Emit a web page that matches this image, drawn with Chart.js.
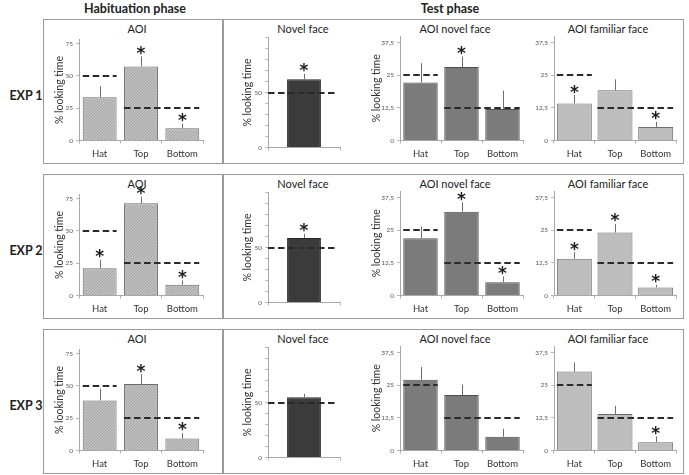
<!DOCTYPE html>
<html><head><meta charset="utf-8">
<script src="https://cdn.jsdelivr.net/npm/chart.js@4/dist/chart.umd.min.js"></script>
<style>
html,body{margin:0;padding:0;background:#fff;}
#fig{position:relative;width:689px;height:475px;font-family:Lato,"Open Sans",sans-serif;color:#222;overflow:hidden;}
.box{position:absolute;border:1.5px solid #9a9a9a;box-sizing:border-box;}
.vline{position:absolute;width:1.5px;background:#9a9a9a;}
.hdr,.exp{position:absolute;font-weight:bold;font-size:12.5px;transform:translate(-50%,-50%);white-space:nowrap;}
.ttl{position:absolute;font-size:11px;transform:translate(-50%,-50%);white-space:nowrap;color:#222;}
canvas{position:absolute;}
</style></head>
<body><div id="fig"></div>
<script>
// ---------- data ----------
const categories = ['Hat', 'Top', 'Bottom'];
const novelCategories = [''];
const experiments = ['EXP 1', 'EXP 2', 'EXP 3'];
const panelTitles = ['AOI', 'Novel face', 'AOI novel face', 'AOI familiar face'];
const phaseTitles = ['Habituation phase', 'Test phase'];
const yTitle = '% looking time';

const habChance = [50, 25, 25];
const novelChance = [50];
const aoiFaceChance = [25, 12.5, 12.5];

const habTickValues = [0, 25, 50, 75];
const habTickLabels = ['0', '25', '50', '75'];
const novelTickValues = [0, 10, 20, 30, 40, 50, 60, 70, 80, 90, 100];
const novelTickLabels = ['0', '', '', '', '', '50', '', '', '', '', ''];
const aoiFaceTickValues = [0, 12.5, 25, 37.5];
const aoiFaceTickLabels = ['0', '12,5', '25', '37,5'];

// Experiment 1
const hab1 = [33.4, 57.3, 9.4];      const hab1Err = [42, 65, 13];        const hab1Sig = [0, 1, 1];
const novel1 = [62];                 const novel1Err = [67];              const novel1Sig = [1];
const aoiNovel1 = [22.2, 28.1, 12.1]; const aoiNovel1Err = [29.6, 32.1, 19.1]; const aoiNovel1Sig = [0, 1, 0];
const aoiFam1 = [14.2, 19.2, 5.2];   const aoiFam1Err = [17.4, 23.4, 7.1]; const aoiFam1Sig = [1, 0, 1];
// Experiment 2
const hab2 = [21.1, 71.3, 8.3];      const hab2Err = [27.5, 76.4, 11.6];  const hab2Sig = [1, 1, 1];
const novel2 = [58.7];               const novel2Err = [62.5];            const novel2Sig = [1];
const aoiNovel2 = [21.9, 32.1, 5.1]; const aoiNovel2Err = [26.4, 35.7, 7.3]; const aoiNovel2Sig = [0, 1, 1];
const aoiFam2 = [14.1, 24.1, 3.1];   const aoiFam2Err = [16.6, 27.4, 4.1]; const aoiFam2Sig = [1, 1, 1];
// Experiment 3
const hab3 = [38.7, 51.5, 9.2];      const hab3Err = [47.7, 59, 13.6];    const hab3Sig = [0, 1, 1];
const novel3 = [54.7];               const novel3Err = [57.9];            const novel3Sig = [0];
const aoiNovel3 = [27.1, 21.2, 5.3]; const aoiNovel3Err = [32, 25.2, 8.3]; const aoiNovel3Sig = [0, 0, 0];
const aoiFam3 = [30.2, 14, 3.2];     const aoiFam3Err = [33.7, 17.1, 5.4]; const aoiFam3Sig = [0, 0, 1];

// ---------- layout / style ----------
Chart.defaults.font.family = 'Lato, "Open Sans", sans-serif';
const fig = document.getElementById('fig');
const rowTops = [19, 174, 329];
const rowH = 145;

function hatch() {
  const c = document.createElement('canvas'); c.width = 3; c.height = 3;
  const g = c.getContext('2d');
  g.fillStyle = '#c0c0c0'; g.fillRect(0, 0, 3, 3);
  g.fillStyle = '#a4a4a4';
  for (let i = 0; i < 3; i++) g.fillRect(i, 2 - i, 1, 1);
  return g.createPattern(c, 'repeat');
}

const cols = [
  { left: 44, width: 177, yW: 35, padR: 18, padT: 19.6, xH: 21.5, max: 78, tv: habTickValues, tl: habTickLabels,
    fill: hatch(), border: '#6a6a6a', barPct: 0.82, titlePad: 9, showYTitle: true, span: 'bar', labels: categories, chance: habChance, titleX: 137 },
  { left: 224, width: 134, yW: 44, padR: 18, padT: 17.5, xH: 14.5, max: 100, tv: novelTickValues, tl: novelTickLabels,
    fill: '#3b3b3b', border: '#262626', barPct: 0.47, titlePad: 17, showYTitle: true, span: 'category', labels: novelCategories, chance: novelChance, titleX: 303 },
  { left: 358, width: 172, yW: 42, padR: 7, padT: 16, xH: 21.5, max: 40, tv: aoiFaceTickValues, tl: aoiFaceTickLabels,
    fill: '#7b7b7b', border: '#4e4e4e', barPct: 0.84, titlePad: 12, showYTitle: true, span: 'bar', labels: categories, chance: aoiFaceChance, titleX: 455 },
  { left: 530, width: 152, yW: 24, padR: 6, padT: 16, xH: 21.5, max: 40, tv: aoiFaceTickValues, tl: aoiFaceTickLabels,
    fill: '#bdbdbd', border: '#6e6e6e', barPct: 0.86, titlePad: 0, showYTitle: false, span: 'bar', labels: categories, chance: aoiFaceChance, titleX: 608 }
];

const rows = [
  [[hab1, hab1Err, hab1Sig], [novel1, novel1Err, novel1Sig], [aoiNovel1, aoiNovel1Err, aoiNovel1Sig], [aoiFam1, aoiFam1Err, aoiFam1Sig]],
  [[hab2, hab2Err, hab2Sig], [novel2, novel2Err, novel2Sig], [aoiNovel2, aoiNovel2Err, aoiNovel2Sig], [aoiFam2, aoiFam2Err, aoiFam2Sig]],
  [[hab3, hab3Err, hab3Sig], [novel3, novel3Err, novel3Sig], [aoiNovel3, aoiNovel3Err, aoiNovel3Sig], [aoiFam3, aoiFam3Err, aoiFam3Sig]]
];

const extrasPlugin = {
  id: 'extras',
  afterDatasetsDraw(chart, args, opts) {
    const ctx = chart.ctx;
    const meta = chart.getDatasetMeta(0);
    const y = chart.scales.y;
    ctx.save();
    // error bars (upper)
    ctx.strokeStyle = '#6e6e6e'; ctx.lineWidth = 1;
    meta.data.forEach((bar, i) => {
      const xx = Math.round(bar.x) + 0.5;
      ctx.beginPath(); ctx.moveTo(xx, bar.y); ctx.lineTo(xx, y.getPixelForValue(opts.err[i])); ctx.stroke();
    });
    // chance-level dashed lines
    ctx.strokeStyle = '#2a2a2a'; ctx.lineWidth = 2; ctx.setLineDash([6.5, 3.5]);
    const ch = opts.chance; let i = 0;
    while (i < ch.length) {
      let j = i; while (j + 1 < ch.length && ch[j + 1] === ch[i]) j++;
      let x0, x1;
      if (opts.span === 'category') { x0 = chart.chartArea.left; x1 = chart.chartArea.right - 2; }
      else { x0 = meta.data[i].x - meta.data[i].width / 2; x1 = meta.data[j].x + meta.data[j].width / 2; }
      const yy = Math.round(y.getPixelForValue(ch[i]));
      ctx.beginPath(); ctx.moveTo(x0, yy); ctx.lineTo(x1, yy); ctx.stroke();
      i = j + 1;
    }
    ctx.setLineDash([]);
    // significance asterisks
    ctx.fillStyle = '#1e1e1e'; ctx.font = 'bold 17px "DejaVu Sans", sans-serif';
    ctx.textAlign = 'center'; ctx.textBaseline = 'alphabetic';
    meta.data.forEach((bar, k) => {
      if (opts.sig[k]) ctx.fillText('*', bar.x, y.getPixelForValue(opts.err[k]) + 2.5);
    });
    ctx.restore();
  }
};

function addText(cls, text, x, y) {
  const d = document.createElement('div');
  d.className = cls; d.textContent = text;
  d.style.left = x + 'px'; d.style.top = y + 'px';
  fig.appendChild(d);
}

addText('hdr', phaseTitles[0], 135, 8);
addText('hdr', phaseTitles[1], 450, 8);

rows.forEach((row, r) => {
  const top = rowTops[r];
  const box = document.createElement('div');
  box.className = 'box';
  Object.assign(box.style, { left: '43px', top: top + 'px', width: '641px', height: rowH + 'px' });
  fig.appendChild(box);
  const vl = document.createElement('div');
  vl.className = 'vline';
  Object.assign(vl.style, { left: '222px', top: top + 'px', height: rowH + 'px' });
  fig.appendChild(vl);
  addText('exp', experiments[r], 26, top + 76);

  row.forEach((panel, c) => {
    const col = cols[c];
    const [values, err, sig] = panel;
    addText('ttl', panelTitles[c], col.titleX, top + 8.5);
    const cv = document.createElement('canvas');
    cv.width = col.width; cv.height = 142;
    cv.style.left = col.left + 'px'; cv.style.top = (top + 1) + 'px';
    cv.style.width = col.width + 'px'; cv.style.height = '142px';
    fig.appendChild(cv);
    new Chart(cv, {
      type: 'bar',
      data: { labels: col.labels, datasets: [{ data: values, backgroundColor: col.fill, borderColor: col.border,
        borderWidth: 1, barPercentage: col.barPct, categoryPercentage: 1 }] },
      options: {
        responsive: false, animation: false, devicePixelRatio: 1,
        layout: { padding: { left: 0, right: col.padR, top: col.padT, bottom: 0 } },
        plugins: { legend: { display: false }, tooltip: { enabled: false },
          extras: { err, sig, chance: col.chance, span: col.span } },
        scales: {
          x: {
            grid: { display: true, drawOnChartArea: false, offset: true, tickLength: 3, color: '#b0b0b0' },
            border: { color: '#a8a8a8' },
            ticks: { font: { size: 9.5 }, color: '#333', padding: 5, maxRotation: 0 },
            afterFit(s) { s.height = col.xH; }
          },
          y: {
            min: 0, max: col.max,
            grid: { drawOnChartArea: false, tickLength: 3, color: '#b8b8b8' },
            border: { color: '#a8a8a8' },
            ticks: { font: { size: 6.5 }, color: '#555', padding: 3, autoSkip: false,
              callback: (v) => { const k = col.tv.indexOf(v); return k >= 0 ? col.tl[k] : ''; } },
            afterBuildTicks(s) { s.ticks = col.tv.map(v => ({ value: v })); },
            afterFit(s) { s.width = col.yW; },
            title: { display: col.showYTitle, text: yTitle, font: { size: 10.5 }, color: '#333',
              padding: { top: col.titlePad, bottom: 0 } }
          }
        }
      },
      plugins: [extrasPlugin]
    });
  });
});
</script>
</body></html>
